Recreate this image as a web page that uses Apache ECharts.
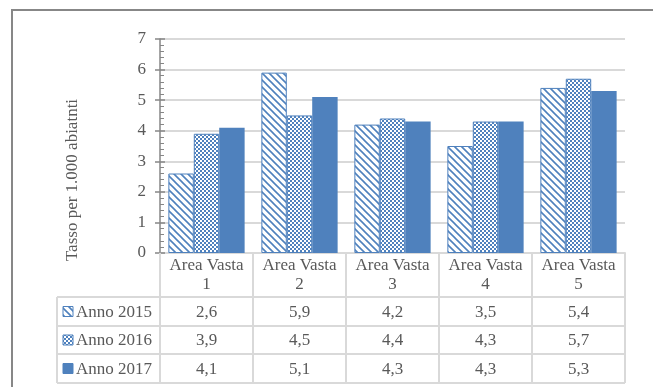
<!DOCTYPE html>
<html>
<head>
<meta charset="utf-8">
<script src="https://cdn.jsdelivr.net/npm/echarts@6/dist/echarts.min.js"></script>
<style>
html, body { margin: 0; padding: 0; background: #fff; }
#chartContainer { width: 653px; height: 387px; }
</style>
</head>
<body>
<div id="chartContainer"></div>
<script>
const categories = ['Area Vasta\n1', 'Area Vasta\n2', 'Area Vasta\n3', 'Area Vasta\n4', 'Area Vasta\n5'];
const seriesNames = ['Anno 2015', 'Anno 2016', 'Anno 2017'];
const values2015 = [2.6, 5.9, 4.2, 3.5, 5.4];
const values2016 = [3.9, 4.5, 4.4, 4.3, 5.7];
const values2017 = [4.1, 5.1, 4.3, 4.3, 5.3];
const yMin = 0, yMax = 7, yStep = 1;
const yTitle = 'Tasso per 1.000 abiatnti';

const BLUE = '#4f81bd';
const TEXT = '#595959';
const LINE = '#d9d9d9';
const FONT = "'Liberation Serif', 'Times New Roman', serif";

let chart = null;

function makePattern(kind) {
    const c = document.createElement('canvas');
    const g = c.getContext('2d');
    if (kind === 'diag') {
        c.width = 7; c.height = 7;
        g.fillStyle = '#fff';
        g.fillRect(0, 0, 7, 7);
        g.strokeStyle = BLUE;
        g.lineWidth = 1.6;
        g.beginPath();
        g.moveTo(-1, -1); g.lineTo(8, 8);
        g.moveTo(-1, 6); g.lineTo(1, 8);
        g.moveTo(6, -1); g.lineTo(8, 1);
        g.stroke();
    } else {
        c.width = 4; c.height = 4;
        g.fillStyle = BLUE;
        g.fillRect(0, 0, 4, 4);
        g.fillStyle = '#fff';
        g.fillRect(0, 0, 2, 2);
        g.fillRect(2, 2, 2, 2);
    }
    return { image: c, repeat: 'repeat' };
}

const fills = [makePattern('diag'), makePattern('check'), BLUE];
const seriesValues = [values2015, values2016, values2017];

function fmt(v) {
    return v.toFixed(1).replace('.', ',');
}

function buildTable() {
    const colX = categories.map((c, i) => chart.convertToPixel({ xAxisIndex: 0 }, i));
    const half = (colX[1] - colX[0]) / 2;
    const tableRight = colX[colX.length - 1] + half;
    const tableLeft = 57;
    const rowTops = [297, 326, 354, 383];
    const els = [];

    // outer frame
    els.push({ type: 'rect', shape: { x: 12, y: 10, width: 700, height: 420 },
        style: { fill: 'none', stroke: '#878787', lineWidth: 2 }, silent: true });

    // y axis title
    els.push({ type: 'text', x: 73, y: 180, rotation: Math.PI / 2,
        style: { text: yTitle, x: 0, y: 0, align: 'center', verticalAlign: 'middle', font: '17px ' + FONT, fill: TEXT } });

    rowTops.forEach(y => {
        els.push({ type: 'line', shape: { x1: tableLeft, y1: y, x2: tableRight, y2: y },
            style: { stroke: LINE, lineWidth: 2 }, silent: true });
    });
    els.push({ type: 'line', shape: { x1: tableLeft, y1: rowTops[0], x2: tableLeft, y2: rowTops[rowTops.length - 1] },
        style: { stroke: LINE, lineWidth: 2 }, silent: true });

    seriesNames.forEach((name, r) => {
        const cy = (rowTops[r] + rowTops[r + 1]) / 2;
        els.push({ type: 'rect', shape: { x: 63, y: cy - 5, width: 10, height: 10 },
            style: { fill: fills[r], stroke: BLUE, lineWidth: 1 } });
        els.push({ type: 'text', style: { text: name, x: 76, y: cy + 1, align: 'left', verticalAlign: 'middle',
            font: '17px ' + FONT, fill: TEXT } });
        seriesValues[r].forEach((v, i) => {
            els.push({ type: 'text', style: { text: fmt(v), x: colX[i], y: cy + 1, align: 'center', verticalAlign: 'middle',
                font: '17px ' + FONT, fill: TEXT } });
        });
    });

    chart.setOption({ graphic: els });
}

function updateChart() {
    const series = seriesNames.map((name, r) => ({
        name: name,
        type: 'bar',
        data: seriesValues[r],
        barGap: '0%',
        barCategoryGap: '18%',
        itemStyle: r < 2 ? { color: fills[r], borderColor: BLUE, borderWidth: 1 } : { color: BLUE },
        emphasis: { disabled: true }
    }));

    const option = {
        animation: false,
        grid: { left: 160, right: 28, top: 39, bottom: 134, containLabel: false },
        xAxis: {
            type: 'category',
            data: categories,
            axisLine: { show: true, lineStyle: { color: LINE, width: 2 } },
            axisTick: { show: true, length: 130, lineStyle: { color: LINE, width: 2 } },
            axisLabel: { color: TEXT, fontFamily: FONT, fontSize: 17, lineHeight: 19, margin: 3, interval: 0 }
        },
        yAxis: [{
            type: 'value',
            min: yMin, max: yMax, interval: yStep,
            position: 'left',
            axisLine: { show: true, lineStyle: { color: '#868686', width: 1.5 } },
            axisTick: { show: true, length: 5, lineStyle: { color: '#868686', width: 1.5 } },
            axisLabel: { color: TEXT, fontFamily: FONT, fontSize: 17, margin: 14 },
            splitLine: { show: true, lineStyle: { color: LINE, width: 2 } }
        }, {
            type: 'value',
            min: yMin, max: yMax, interval: yStep,
            position: 'right',
            offset: -465,
            axisLine: { show: false },
            axisTick: { show: true, length: 5, lineStyle: { color: '#868686', width: 1.5 } },
            minorTick: { show: true, splitNumber: 5, length: 4, lineStyle: { color: '#868686', width: 1 } },
            axisLabel: { show: false },
            splitLine: { show: false }
        }],
        series
    };

    chart.setOption(option, true);
    buildTable();
}

document.addEventListener('DOMContentLoaded', function() {
    chart = echarts.init(document.getElementById('chartContainer'));
    updateChart();
});
</script>
</body>
</html>
